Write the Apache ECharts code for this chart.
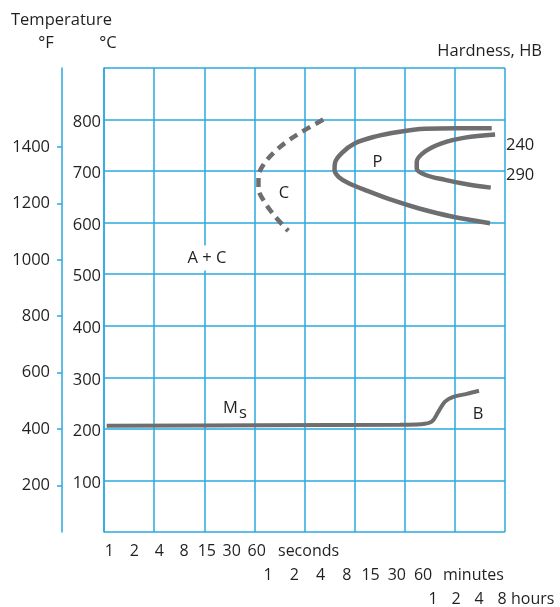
<!DOCTYPE html>
<html>
<head>
<meta charset="utf-8">
<script src="https://cdn.jsdelivr.net/npm/echarts@6/dist/echarts.min.js"></script>
<style>
  html, body { margin: 0; padding: 0; background: #fff; }
  #main { width: 560px; height: 607px; }
</style>
</head>
<body>
<div id="main"></div>
<script>
// tick labels
const celsiusLabels = [100, 200, 300, 400, 500, 600, 700, 800];
const fahrenheitLabels = [200, 400, 600, 800, 1000, 1200, 1400];
const secondsLabels = [1, 2, 4, 8, 15, 30, 60];
const minutesLabels = [1, 2, 4, 8, 15, 30, 60];
const hoursLabels = [1, 2, 4, 8];

// curves: time in seconds, temperature in °C
const cCurveTime = [381, 219, 138, 95, 72, 63, 63, 76, 100, 144];
const cCurveTemp = [800, 778, 757, 735, 712, 689, 667, 638, 612, 584];

const pOuterTime = [41000, 16200, 6430, 3060, 1600, 920, 636, 528, 521, 582, 764, 1330, 2550, 5340, 13500, 39100];
const pOuterTemp = [783, 783, 782, 776, 767, 754, 735, 716, 702, 689, 677, 661, 644, 628, 612, 599];

const pInnerTime = [45000, 19500, 10200, 6430, 5110, 5110, 6430, 11200, 21400, 39900];
const pInnerTemp = [771, 765, 754, 738, 718, 705, 693, 683, 674, 668];

const msTime = [0.93, 65.7, 3210, 5600, 7750, 9300, 11200, 14100, 20500, 28800];
const msTemp = [206, 207, 208, 209, 214, 233, 253, 262, 268, 274];

const BLUE = '#2aa9e0';
const GREY = '#6d6e70';
const INK = '#231f20';
const FONT = '"Open Sans", sans-serif';
const AXIS_SIZE = 16;
const TITLE_SIZE = 16.5;

function zip(xs, ys) {
  return xs.map((x, i) => [x, ys[i]]);
}

function textEl(text, x, y, align, size, styleExtra) {
  return {
    type: 'text',
    x: x,
    y: y,
    z: 100,
    style: Object.assign({
      text: text,
      fill: INK,
      font: (size || TITLE_SIZE) + 'px ' + FONT,
      align: align || 'center',
      verticalAlign: 'middle'
    }, styleExtra || {})
  };
}

function timeAxis(min, max, ticks, offset) {
  return {
    type: 'log',
    logBase: 10,
    gridIndex: 0,
    position: 'bottom',
    min: min,
    max: max,
    offset: offset,
    axisLine: { show: false },
    axisTick: { show: false },
    splitLine: { show: false },
    minorTick: { show: false },
    axisLabel: {
      customValues: ticks,
      formatter: v => String(v),
      margin: 19,
      verticalAlign: 'middle',
      color: INK,
      fontSize: AXIS_SIZE,
      fontFamily: FONT
    }
  };
}

const curveStyle = (dashed) => ({
  type: 'line',
  xAxisIndex: 1,
  yAxisIndex: 0,
  smooth: 0.35,
  symbol: 'none',
  silent: true,
  lineStyle: {
    color: GREY,
    width: 4.5,
    type: dashed ? [9, 6] : 'solid',
    cap: 'butt'
  }
});

const chart = echarts.init(document.getElementById('main'), null, { renderer: 'canvas' });

chart.setOption({
  backgroundColor: '#fff',
  animation: false,
  grid: {
    left: 104,
    right: 55,
    top: 68,
    bottom: 75,
    containLabel: false,
    outerBoundsMode: 'none'
  },
  xAxis: [
    {
      type: 'value',
      min: 0,
      max: 8,
      interval: 1,
      position: 'bottom',
      axisLine: { show: false },
      axisTick: { show: false },
      axisLabel: { show: false },
      splitLine: { show: true, lineStyle: { color: BLUE, width: 1.5 } }
    },
    timeAxis(0.863, 59300, secondsLabels, 0),
    timeAxis(0.01315, 522.4, minutesLabels, 24.5),
    timeAxis(4.94e-5, 8.75, hoursLabels, 48.5)
  ],
  yAxis: [
    {
      type: 'value',
      min: 0,
      max: 900,
      interval: 100,
      position: 'left',
      axisLine: { show: true, lineStyle: { color: BLUE, width: 1.5 } },
      axisTick: { show: false },
      splitLine: { show: true, lineStyle: { color: BLUE, width: 1.5 } },
      axisLabel: {
        customValues: celsiusLabels,
        formatter: v => String(v),
        margin: 3,
        color: INK,
        fontSize: TITLE_SIZE,
        fontFamily: FONT,
        verticalAlign: 'top',
        padding: [-6, 0, 0, 0]
      }
    },
    {
      type: 'value',
      min: 35,
      max: 1680,
      position: 'left',
      offset: 42,
      axisLine: { show: true, lineStyle: { color: BLUE, width: 1.5 } },
      axisTick: {
        show: true,
        length: 5,
        customValues: fahrenheitLabels,
        lineStyle: { color: BLUE, width: 1.5 }
      },
      splitLine: { show: false },
      axisLabel: {
        customValues: fahrenheitLabels,
        formatter: v => String(v),
        margin: 12,
        color: INK,
        fontSize: TITLE_SIZE,
        fontFamily: FONT,
        verticalAlign: 'middle'
      }
    }
  ],
  series: [
    Object.assign(curveStyle(true), { name: 'C', data: zip(cCurveTime, cCurveTemp) }),
    Object.assign(curveStyle(false), { name: 'P outer', data: zip(pOuterTime, pOuterTemp) }),
    Object.assign(curveStyle(false), { name: 'P inner', data: zip(pInnerTime, pInnerTemp) }),
    Object.assign(curveStyle(false), { name: 'Ms', data: zip(msTime, msTemp), lineStyle: { color: GREY, width: 4 } })
  ],
  graphic: [
    textEl('Temperature', 11, 20, 'left'),
    textEl('°F', 46, 43),
    textEl('°C', 108, 43),
    textEl('Hardness, HB', 542, 51, 'right'),
    textEl('240', 506, 145, 'left'),
    textEl('290', 506, 175, 'left'),
    textEl('A + C', 207, 258, 'center', null, { backgroundColor: '#fff', padding: [5, 2, 3, 2] }),
    textEl('C', 284, 193),
    textEl('P', 377.5, 162),
    textEl('B', 478, 414),
    textEl('M', 230.5, 408),
    textEl('s', 243, 413),
    textEl('seconds', 278, 551, 'left', AXIS_SIZE),
    textEl('minutes', 443, 575.5, 'left', AXIS_SIZE),
    textEl('hours', 511, 599.5, 'left', AXIS_SIZE)
  ]
});
</script>
</body>
</html>
